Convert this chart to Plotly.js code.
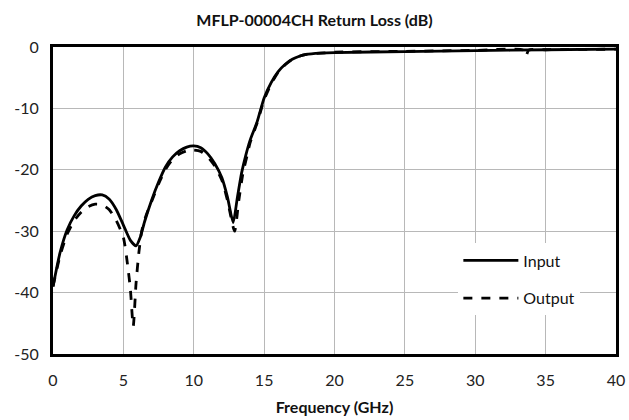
<!DOCTYPE html>
<html>
<head>
<meta charset="utf-8">
<script src="https://cdn.plot.ly/plotly-3.0.1.min.js"></script>
<style>html,body{margin:0;padding:0;background:#fff;}#chart{width:629px;height:420px;}</style>
</head>
<body>
<div id="chart"></div>
<script>
const inputFreq = [0,0.5,1,1.5,2,2.5,3,3.5,4,4.5,5,5.5,5.9,6.2,6.5,7,7.5,8,8.5,9,9.5,10,10.5,11,11.5,12,12.4,12.8,13.1,13.4,13.7,14,14.5,15,15.5,16,16.5,17,17.5,18,19,20,25,30,35,40];
const inputRL = [-39,-33.5,-29.8,-27.5,-25.9,-24.8,-24.2,-24.1,-24.8,-26.5,-29.0,-31.5,-32.4,-31,-28.5,-25,-22,-19.5,-17.9,-16.9,-16.3,-16.1,-16.4,-17.4,-19,-21.3,-24.5,-28.6,-24.5,-20.5,-17.6,-15.2,-12.2,-8.3,-5.8,-4,-2.8,-2.0,-1.5,-1.2,-1.0,-0.9,-0.75,-0.6,-0.45,-0.35];
const outputFreq = [0,0.5,1,1.5,2,2.5,3,3.5,4,4.5,5,5.3,5.5,5.7,5.9,6.1,6.3,6.6,7,7.5,8,8.5,9,9.5,10,10.5,11,11.5,12,12.4,12.9,13.2,13.5,13.8,14,14.5,15,15.5,16,16.5,17,17.5,18,19,20,25,30,33.4,33.6,33.8,35,40];
const outputRL = [-39,-34,-30.5,-28.3,-26.9,-26.0,-25.6,-25.7,-26.5,-28.3,-31,-35.5,-39.5,-45.5,-38.5,-33.5,-30,-27.5,-25.2,-22.3,-19.9,-18.3,-17.4,-16.9,-16.8,-17.0,-17.9,-19.4,-21.7,-25,-30,-25,-20.5,-17.6,-15.6,-12.4,-8.6,-6.0,-4.1,-2.9,-2.0,-1.5,-1.2,-1.0,-0.85,-0.7,-0.55,-0.5,-1.5,-0.5,-0.45,-0.35];
const xTicks = [0,5,10,15,20,25,30,35,40];
const yTicks = [0,-10,-20,-30,-40,-50];

const font = 'Lato, "Open Sans", sans-serif';
const traces = [
  {x: inputFreq, y: inputRL, name: 'Input', mode: 'lines', legendgroup: 'a',
   line: {color: '#000', width: 2.8, shape: 'spline', smoothing: 0.6}},
  {x: outputFreq, y: outputRL, name: 'Output', mode: 'lines', legendgroup: 'b',
   line: {color: '#000', width: 2.8, dash: 'dash', shape: 'spline', smoothing: 0.6}}
];
const layout = {
  width: 629, height: 420,
  margin: {l: 53, r: 13, t: 47, b: 66},
  paper_bgcolor: '#fff', plot_bgcolor: '#fff',
  font: {family: font, size: 16, color: '#222'},
  title: {text: '<b>MFLP-00004CH Return Loss (dB)</b>', font: {family: font, size: 16, color: '#111'}, x: 0.5, xanchor: 'center', y: 0.952, yanchor: 'middle'},
  xaxis: {range: [0, 40], tickvals: xTicks, ticktext: xTicks.map(String), showgrid: true, gridcolor: '#b8b8b8', gridwidth: 1,
    showline: true, linecolor: '#000', linewidth: 3, mirror: true, zeroline: false, ticks: '', ticklabelstandoff: 10,
    tickfont: {size: 16}, title: {text: '<b>Frequency (GHz)</b>', font: {size: 16, color: '#111'}, standoff: 14}},
  yaxis: {range: [-50, 0], tickvals: yTicks, ticktext: yTicks.map(String), showgrid: true, gridcolor: '#b8b8b8', gridwidth: 1,
    showline: true, linecolor: '#000', linewidth: 3, mirror: true, zeroline: false, ticks: '', ticklabelstandoff: 8,
    tickfont: {size: 16}},
  showlegend: true,
  legend: {x: 0.72, y: 0.36, xanchor: 'left', yanchor: 'top', bgcolor: '#fff', borderwidth: 0,
    font: {size: 16, color: '#111'}, traceorder: 'grouped', tracegroupgap: 14, itemwidth: 55}
};
Plotly.newPlot('chart', traces, layout, {displayModeBar: false, staticPlot: true});
</script>
</body>
</html>
